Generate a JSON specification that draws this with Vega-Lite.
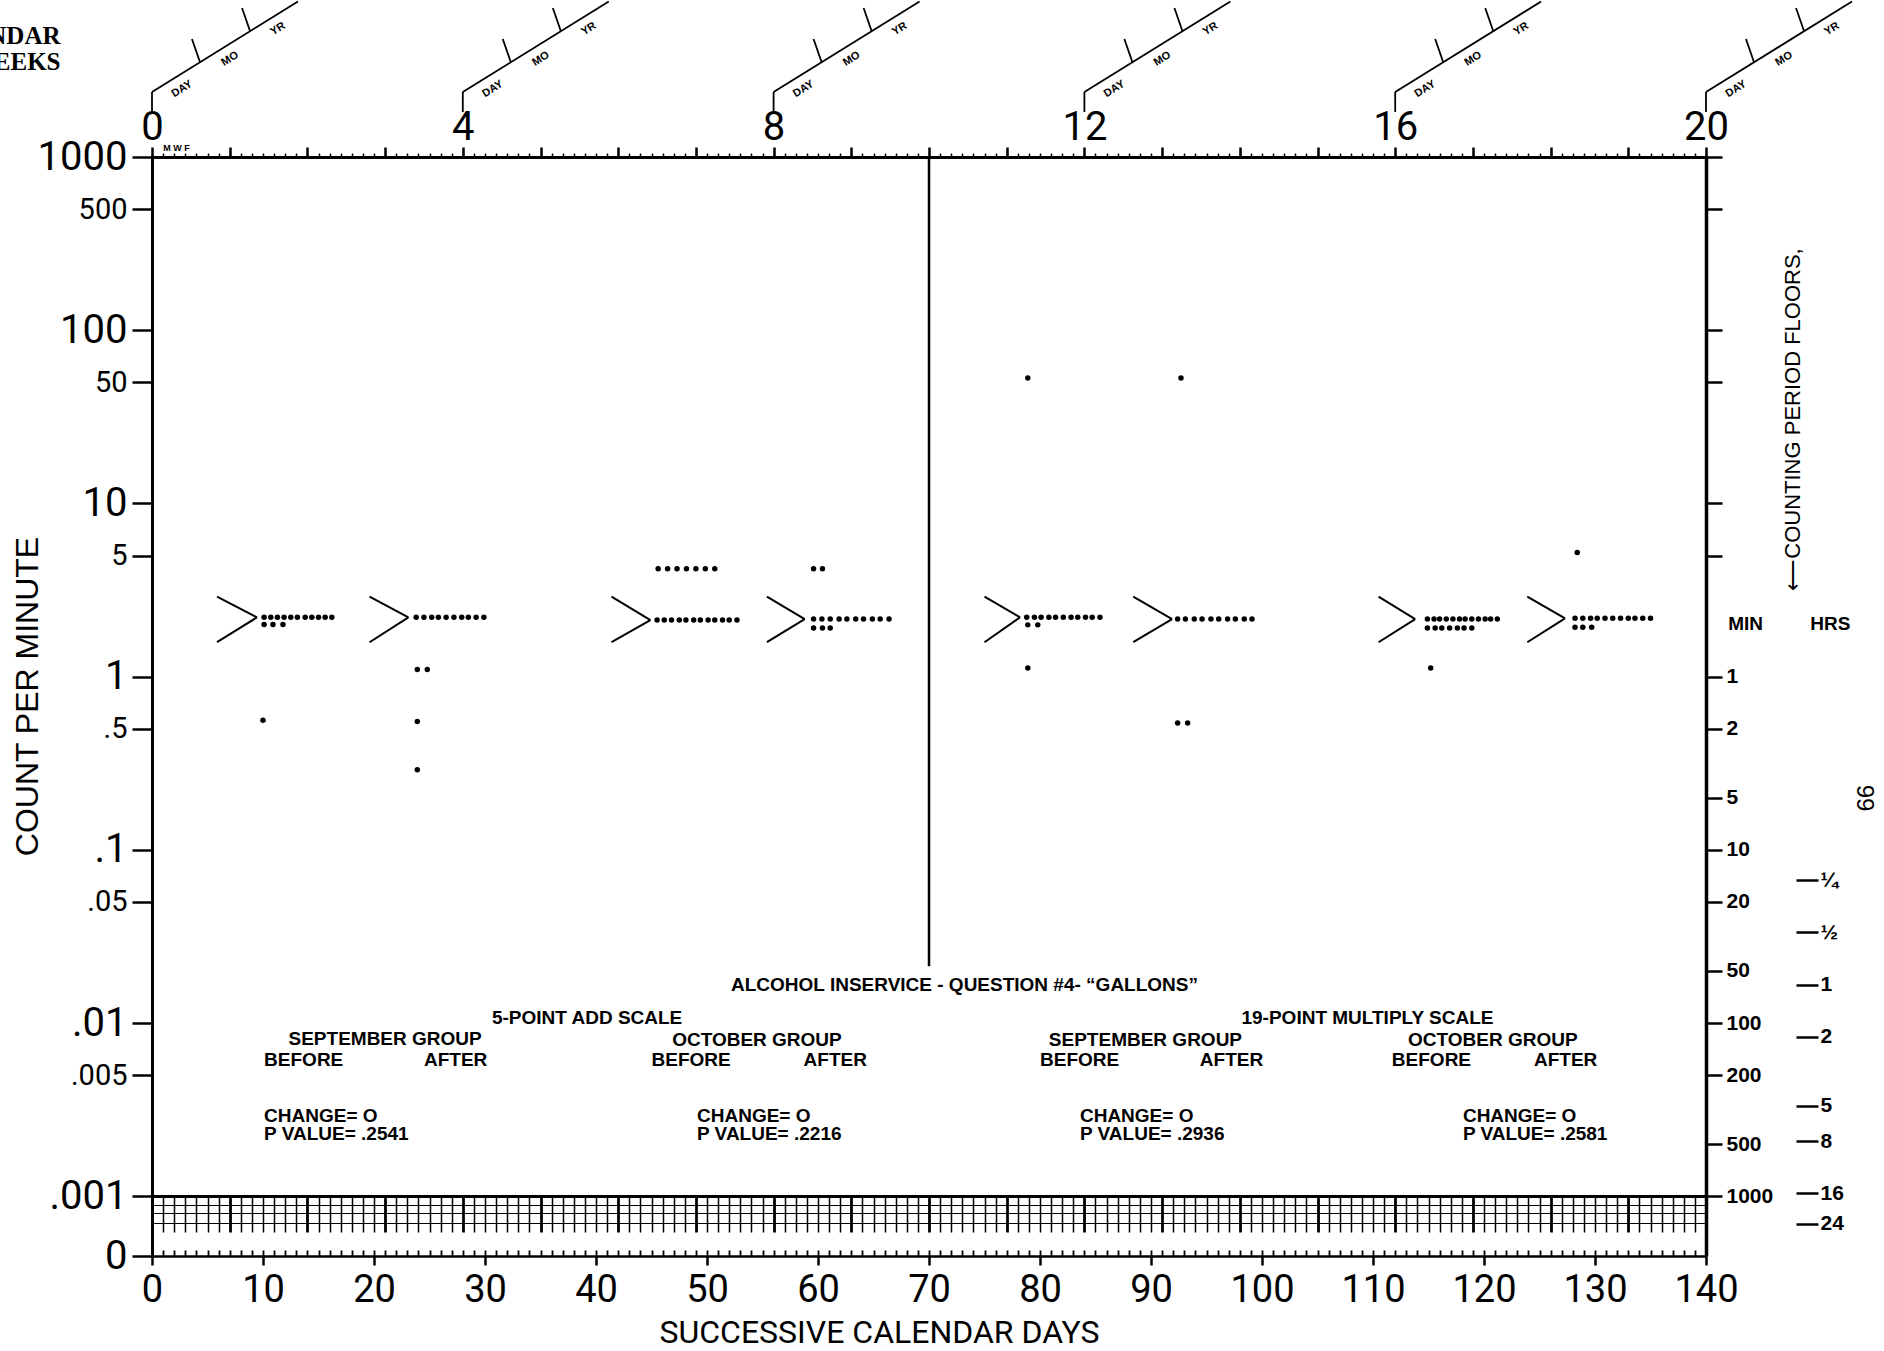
{
  "$schema": "https://vega.github.io/schema/vega-lite/v6.json",
  "autosize": {"type": "none"},
  "padding": {"left": 152, "top": 157, "right": 178, "bottom": 95},
  "width": 1554,
  "height": 1099,
  "background": "white",
  "config": {
    "view": {"stroke": null},
    "font": "Liberation Sans",
    "axis": {"domainColor": "black", "tickColor": "black", "labelColor": "black", "titleColor": "black", "grid": false, "labelFlush": false, "labelOverlap": false}
  },
  "datasets": {
    "dots": [
      {"day": 10.1, "count": 2.2}, {"day": 10.7, "count": 2.2}, {"day": 11.3, "count": 2.2}, {"day": 11.9, "count": 2.2}, {"day": 12.5, "count": 2.2}, {"day": 13.1, "count": 2.2}, {"day": 13.8, "count": 2.2}, {"day": 14.4, "count": 2.2}, {"day": 15.0, "count": 2.2}, {"day": 15.6, "count": 2.2}, {"day": 16.2, "count": 2.2},
      {"day": 10.1, "count": 2.0}, {"day": 10.9, "count": 2.0}, {"day": 11.8, "count": 2.0},
      {"day": 10.0, "count": 0.56},
      {"day": 23.8, "count": 2.2}, {"day": 24.5, "count": 2.2}, {"day": 25.2, "count": 2.2}, {"day": 25.8, "count": 2.2}, {"day": 26.5, "count": 2.2}, {"day": 27.2, "count": 2.2}, {"day": 27.9, "count": 2.2}, {"day": 28.5, "count": 2.2}, {"day": 29.2, "count": 2.2}, {"day": 29.9, "count": 2.2},
      {"day": 23.9, "count": 1.1}, {"day": 24.8, "count": 1.1}, {"day": 23.9, "count": 0.55}, {"day": 23.9, "count": 0.29},
      {"day": 45.6, "count": 4.2}, {"day": 46.45, "count": 4.2}, {"day": 47.3, "count": 4.2}, {"day": 48.15, "count": 4.2}, {"day": 49.0, "count": 4.2}, {"day": 49.85, "count": 4.2}, {"day": 50.7, "count": 4.2},
      {"day": 45.5, "count": 2.12}, {"day": 46.15, "count": 2.12}, {"day": 46.8, "count": 2.12}, {"day": 47.5, "count": 2.12}, {"day": 48.1, "count": 2.12}, {"day": 48.8, "count": 2.12}, {"day": 49.4, "count": 2.12}, {"day": 50.1, "count": 2.12}, {"day": 50.7, "count": 2.12}, {"day": 51.4, "count": 2.12}, {"day": 52.0, "count": 2.12}, {"day": 52.7, "count": 2.12},
      {"day": 59.6, "count": 4.2}, {"day": 60.4, "count": 4.2},
      {"day": 59.6, "count": 2.15}, {"day": 60.35, "count": 2.15}, {"day": 61.1, "count": 2.15}, {"day": 61.9, "count": 2.15}, {"day": 62.6, "count": 2.15}, {"day": 63.4, "count": 2.15}, {"day": 64.1, "count": 2.15}, {"day": 64.9, "count": 2.15}, {"day": 65.6, "count": 2.15}, {"day": 66.4, "count": 2.15},
      {"day": 59.6, "count": 1.91}, {"day": 60.4, "count": 1.91}, {"day": 61.1, "count": 1.91},
      {"day": 78.9, "count": 53},
      {"day": 78.8, "count": 2.2}, {"day": 79.5, "count": 2.2}, {"day": 80.1, "count": 2.2}, {"day": 80.8, "count": 2.2}, {"day": 81.4, "count": 2.2}, {"day": 82.1, "count": 2.2}, {"day": 82.8, "count": 2.2}, {"day": 83.4, "count": 2.2}, {"day": 84.1, "count": 2.2}, {"day": 84.7, "count": 2.2}, {"day": 85.4, "count": 2.2},
      {"day": 78.9, "count": 1.99}, {"day": 79.8, "count": 1.99},
      {"day": 78.9, "count": 1.12},
      {"day": 92.7, "count": 53},
      {"day": 92.4, "count": 2.15}, {"day": 93.1, "count": 2.15}, {"day": 93.9, "count": 2.15}, {"day": 94.6, "count": 2.15}, {"day": 95.4, "count": 2.15}, {"day": 96.1, "count": 2.15}, {"day": 96.9, "count": 2.15}, {"day": 97.6, "count": 2.15}, {"day": 98.4, "count": 2.15}, {"day": 99.1, "count": 2.15},
      {"day": 92.4, "count": 0.54}, {"day": 93.3, "count": 0.54},
      {"day": 114.9, "count": 2.15}, {"day": 115.5, "count": 2.15}, {"day": 116.0, "count": 2.15}, {"day": 116.6, "count": 2.15}, {"day": 117.2, "count": 2.15}, {"day": 117.8, "count": 2.15}, {"day": 118.3, "count": 2.15}, {"day": 118.9, "count": 2.15}, {"day": 119.5, "count": 2.15}, {"day": 120.1, "count": 2.15}, {"day": 120.6, "count": 2.15}, {"day": 121.2, "count": 2.15},
      {"day": 114.9, "count": 1.91}, {"day": 115.6, "count": 1.91}, {"day": 116.2, "count": 1.91}, {"day": 116.9, "count": 1.91}, {"day": 117.6, "count": 1.91}, {"day": 118.2, "count": 1.91}, {"day": 118.9, "count": 1.91},
      {"day": 115.2, "count": 1.12},
      {"day": 128.4, "count": 5.2},
      {"day": 128.2, "count": 2.17}, {"day": 128.9, "count": 2.17}, {"day": 129.6, "count": 2.17}, {"day": 130.2, "count": 2.17}, {"day": 130.9, "count": 2.17}, {"day": 131.6, "count": 2.17}, {"day": 132.3, "count": 2.17}, {"day": 133.0, "count": 2.17}, {"day": 133.6, "count": 2.17}, {"day": 134.3, "count": 2.17}, {"day": 135.0, "count": 2.17},
      {"day": 128.2, "count": 1.93}, {"day": 128.9, "count": 1.93}, {"day": 129.7, "count": 1.93}
    ],
    "chevrons": [
      {"x": 5.86, "y": 2.9, "x2": 9.46, "y2": 2.2}, {"x": 5.86, "y": 1.58, "x2": 9.46, "y2": 2.2},
      {"x": 19.6, "y": 2.9, "x2": 23.1, "y2": 2.2}, {"x": 19.6, "y": 1.58, "x2": 23.1, "y2": 2.2},
      {"x": 41.4, "y": 2.9, "x2": 44.9, "y2": 2.12}, {"x": 41.4, "y": 1.58, "x2": 44.9, "y2": 2.12},
      {"x": 55.4, "y": 2.9, "x2": 58.8, "y2": 2.15}, {"x": 55.4, "y": 1.58, "x2": 58.8, "y2": 2.15},
      {"x": 75.0, "y": 2.9, "x2": 78.2, "y2": 2.2}, {"x": 75.0, "y": 1.58, "x2": 78.2, "y2": 2.2},
      {"x": 88.4, "y": 2.9, "x2": 91.9, "y2": 2.15}, {"x": 88.4, "y": 1.58, "x2": 91.9, "y2": 2.15},
      {"x": 110.5, "y": 2.9, "x2": 113.8, "y2": 2.15}, {"x": 110.5, "y": 1.58, "x2": 113.8, "y2": 2.15},
      {"x": 123.9, "y": 2.9, "x2": 127.3, "y2": 2.17}, {"x": 123.9, "y": 1.58, "x2": 127.3, "y2": 2.17}
    ],
    "divider": [{"day": 70, "top": 1000, "bottom": 0.0213}],
    "fans": [
      {"x": 0, "y": 1820, "x2": 0, "y2": 2373}, {"x": 0, "y": 2373, "x2": 13.15, "y2": 7904}, {"x": 4.32, "y": 3536, "x2": 3.6, "y2": 4800}, {"x": 8.83, "y": 5340, "x2": 8.11, "y2": 7249},
      {"x": 28, "y": 1820, "x2": 28, "y2": 2373}, {"x": 28, "y": 2373, "x2": 41.15, "y2": 7904}, {"x": 32.32, "y": 3536, "x2": 31.6, "y2": 4800}, {"x": 36.83, "y": 5340, "x2": 36.11, "y2": 7249},
      {"x": 56, "y": 1820, "x2": 56, "y2": 2373}, {"x": 56, "y": 2373, "x2": 69.15, "y2": 7904}, {"x": 60.32, "y": 3536, "x2": 59.6, "y2": 4800}, {"x": 64.83, "y": 5340, "x2": 64.11, "y2": 7249},
      {"x": 84, "y": 1820, "x2": 84, "y2": 2373}, {"x": 84, "y": 2373, "x2": 97.15, "y2": 7904}, {"x": 88.32, "y": 3536, "x2": 87.6, "y2": 4800}, {"x": 92.83, "y": 5340, "x2": 92.11, "y2": 7249},
      {"x": 112, "y": 1820, "x2": 112, "y2": 2373}, {"x": 112, "y": 2373, "x2": 125.15, "y2": 7904}, {"x": 116.32, "y": 3536, "x2": 115.6, "y2": 4800}, {"x": 120.83, "y": 5340, "x2": 120.11, "y2": 7249},
      {"x": 140, "y": 1820, "x2": 140, "y2": 2373}, {"x": 140, "y": 2373, "x2": 153.15, "y2": 7904}, {"x": 144.32, "y": 3536, "x2": 143.6, "y2": 4800}, {"x": 148.83, "y": 5340, "x2": 148.11, "y2": 7249}
    ],
    "fanlabels": [
      {"x": 2.7, "y": 2470, "text": "DAY"}, {"x": 7.03, "y": 3680, "text": "MO"}, {"x": 11.35, "y": 5483, "text": "YR"},
      {"x": 30.7, "y": 2470, "text": "DAY"}, {"x": 35.03, "y": 3680, "text": "MO"}, {"x": 39.35, "y": 5483, "text": "YR"},
      {"x": 58.7, "y": 2470, "text": "DAY"}, {"x": 63.03, "y": 3680, "text": "MO"}, {"x": 67.35, "y": 5483, "text": "YR"},
      {"x": 86.7, "y": 2470, "text": "DAY"}, {"x": 91.03, "y": 3680, "text": "MO"}, {"x": 95.35, "y": 5483, "text": "YR"},
      {"x": 114.7, "y": 2470, "text": "DAY"}, {"x": 119.03, "y": 3680, "text": "MO"}, {"x": 123.35, "y": 5483, "text": "YR"},
      {"x": 142.7, "y": 2470, "text": "DAY"}, {"x": 147.03, "y": 3680, "text": "MO"}, {"x": 151.35, "y": 5483, "text": "YR"}
    ],
    "notes_center": [
      {"x": 73.2, "y": 0.01656, "text": "ALCOHOL INSERVICE - QUESTION  #4- “GALLONS”"},
      {"x": 39.2, "y": 0.01069, "text": "5-POINT ADD SCALE"},
      {"x": 21.0, "y": 0.00809, "text": "SEPTEMBER GROUP"},
      {"x": 54.5, "y": 0.00798, "text": "OCTOBER GROUP"},
      {"x": 109.5, "y": 0.01069, "text": "19-POINT MULTIPLY SCALE"},
      {"x": 89.5, "y": 0.00798, "text": "SEPTEMBER GROUP"},
      {"x": 120.8, "y": 0.00798, "text": "OCTOBER GROUP"}
    ],
    "notes_left": [
      {"x": 10.1, "y": 0.00611, "text": "BEFORE"}, {"x": 24.5, "y": 0.00611, "text": "AFTER"},
      {"x": 45.0, "y": 0.00611, "text": "BEFORE"}, {"x": 58.7, "y": 0.00611, "text": "AFTER"},
      {"x": 80.0, "y": 0.00611, "text": "BEFORE"}, {"x": 94.4, "y": 0.00611, "text": "AFTER"},
      {"x": 111.7, "y": 0.00611, "text": "BEFORE"}, {"x": 124.5, "y": 0.00611, "text": "AFTER"},
      {"x": 10.1, "y": 0.002904, "text": "CHANGE=  O"}, {"x": 10.1, "y": 0.002286, "text": "P VALUE=  .2541"},
      {"x": 49.1, "y": 0.002904, "text": "CHANGE=  O"}, {"x": 49.1, "y": 0.002286, "text": "P VALUE=  .2216"},
      {"x": 83.6, "y": 0.002904, "text": "CHANGE=  O"}, {"x": 83.6, "y": 0.002286, "text": "P VALUE=  .2936"},
      {"x": 118.1, "y": 0.002904, "text": "CHANGE=  O"}, {"x": 118.1, "y": 0.002286, "text": "P VALUE=  .2581"},
      {"x": 142.0, "y": 2.01, "text": "MIN"}, {"x": 149.4, "y": 2.01, "text": "HRS"}
    ],
    "mwf": [{"x": 2.2, "y": 1127, "text": "M  W  F"}],
    "pagenum": [{"x": 154.2, "y": 0.199, "text": "99"}]
  },
  "layer": [
    {
      "data": {"name": "dots"},
      "mark": {"type": "point", "filled": true, "color": "black", "opacity": 1, "size": 30},
      "encoding": {
        "x": {"field": "day", "type": "quantitative", "scale": {"domain": [0, 140], "nice": false, "zero": false},
          "axis": {"orient": "bottom", "values": [0, 10, 20, 30, 40, 50, 60, 70, 80, 90, 100, 110, 120, 130, 140], "format": "d",
            "labelFont": "Roboto", "labelFontSize": 38, "labelFontWeight": "normal", "labelPadding": 6,
            "tickSize": 9, "tickWidth": 2.5, "domainWidth": 2.5,
            "title": "SUCCESSIVE CALENDAR DAYS", "titleFont": "Roboto", "titleFontSize": 32, "titleFontWeight": "normal",
            "titleX": 727, "titleY": 76, "titleAlign": "center", "titleBaseline": "middle", "titleAngle": 0}},
        "y": {"field": "count", "type": "quantitative", "scale": {"type": "log", "domain": [0.000452, 1000], "nice": false},
          "axis": {"orient": "left", "values": [1000, 500, 100, 50, 10, 5, 1, 0.5, 0.1, 0.05, 0.01, 0.005, 0.001, 0.000452],
            "labelExpr": "datum.value < 0.0006 ? '0' : (datum.value < 1 ? replace(toString(datum.value), '0.', '.') : toString(datum.value))",
            "labelFont": "Roboto", "labelFontWeight": "normal",
            "labelFontSize": {"condition": {"test": "datum.value < 0.0006 || abs(log(datum.value)/LN10 - round(log(datum.value)/LN10)) < 0.01", "value": 40}, "value": 29},
            "labelPadding": 5, "tickSize": 20, "tickWidth": 2.5, "domainWidth": 3,
            "title": "COUNT PER MINUTE", "titleFont": "Liberation Sans", "titleFontSize": 32, "titleFontWeight": "normal",
            "titleAngle": 270, "titleX": -125, "titleY": 539, "titleAlign": "center", "titleBaseline": "middle"}}
      }
    },
    {
      "data": {"name": "chevrons"},
      "mark": {"type": "rule", "color": "black", "strokeWidth": 2},
      "encoding": {
        "x": {"field": "x", "type": "quantitative", "scale": {"domain": [0, 140], "nice": false, "zero": false}, "axis": null},
        "y": {"field": "y", "type": "quantitative", "scale": {"type": "log", "domain": [0.000452, 1000], "nice": false}, "axis": null},
        "x2": {"field": "x2"},
        "y2": {"field": "y2"}
      }
    },
    {
      "data": {"name": "divider"},
      "mark": {"type": "rule", "color": "black", "strokeWidth": 2.5},
      "encoding": {
        "x": {"field": "day", "type": "quantitative", "scale": {"domain": [0, 140], "nice": false, "zero": false}, "axis": null},
        "y": {"field": "top", "type": "quantitative", "scale": {"type": "log", "domain": [0.000452, 1000], "nice": false}, "axis": null},
        "y2": {"field": "bottom"}
      }
    },
    {
      "data": {"name": "fans"},
      "mark": {"type": "rule", "color": "black", "strokeWidth": 1.8},
      "encoding": {
        "x": {"field": "x", "type": "quantitative", "scale": {"domain": [0, 140], "nice": false, "zero": false}, "axis": null},
        "y": {"field": "y", "type": "quantitative", "scale": {"type": "log", "domain": [0.000452, 1000], "nice": false}, "axis": null},
        "x2": {"field": "x2"},
        "y2": {"field": "y2"}
      }
    },
    {
      "data": {"name": "fanlabels"},
      "mark": {"type": "text", "color": "black", "font": "Liberation Sans", "fontWeight": "bold", "fontSize": 11, "angle": -32, "align": "center", "baseline": "middle"},
      "encoding": {
        "x": {"field": "x", "type": "quantitative", "scale": {"domain": [0, 140], "nice": false, "zero": false}, "axis": null},
        "y": {"field": "y", "type": "quantitative", "scale": {"type": "log", "domain": [0.000452, 1000], "nice": false}, "axis": null},
        "text": {"field": "text"}
      }
    },
    {
      "data": {"name": "notes_center"},
      "mark": {"type": "text", "color": "black", "font": "Liberation Sans", "fontWeight": "bold", "fontSize": 19, "align": "center", "baseline": "middle"},
      "encoding": {
        "x": {"field": "x", "type": "quantitative", "scale": {"domain": [0, 140], "nice": false, "zero": false}, "axis": null},
        "y": {"field": "y", "type": "quantitative", "scale": {"type": "log", "domain": [0.000452, 1000], "nice": false}, "axis": null},
        "text": {"field": "text"}
      }
    },
    {
      "data": {"name": "notes_left"},
      "mark": {"type": "text", "color": "black", "font": "Liberation Sans", "fontWeight": "bold", "fontSize": 19, "align": "left", "baseline": "middle"},
      "encoding": {
        "x": {"field": "x", "type": "quantitative", "scale": {"domain": [0, 140], "nice": false, "zero": false}, "axis": null},
        "y": {"field": "y", "type": "quantitative", "scale": {"type": "log", "domain": [0.000452, 1000], "nice": false}, "axis": null},
        "text": {"field": "text"}
      }
    },
    {
      "data": {"name": "mwf"},
      "mark": {"type": "text", "color": "black", "font": "Liberation Sans", "fontWeight": "bold", "fontSize": 9, "align": "center", "baseline": "middle"},
      "encoding": {
        "x": {"field": "x", "type": "quantitative", "scale": {"domain": [0, 140], "nice": false, "zero": false}, "axis": null},
        "y": {"field": "y", "type": "quantitative", "scale": {"type": "log", "domain": [0.000452, 1000], "nice": false}, "axis": null},
        "text": {"field": "text"}
      }
    },
    {
      "data": {"name": "pagenum"},
      "mark": {"type": "text", "color": "black", "font": "Liberation Sans", "fontSize": 24, "angle": 90, "align": "center", "baseline": "middle"},
      "encoding": {
        "x": {"field": "x", "type": "quantitative", "scale": {"domain": [0, 140], "nice": false, "zero": false}, "axis": null},
        "y": {"field": "y", "type": "quantitative", "scale": {"type": "log", "domain": [0.000452, 1000], "nice": false}, "axis": null},
        "text": {"field": "text"}
      }
    },
    {
      "data": {"name": "dots"},
      "mark": {"type": "point", "opacity": 0},
      "encoding": {
        "y": {"field": "count", "type": "quantitative", "scale": {"type": "log", "domain": [0.000452, 1000], "nice": false},
          "axis": {"orient": "right", "values": [1000, 500, 100, 50, 10, 5, 1, 0.5, 0.2, 0.1, 0.05, 0.02, 0.01, 0.005, 0.002, 0.001],
            "labelExpr": "datum.value <= 1.0001 ? format(round(1/datum.value), 'd') : ''",
            "labelFont": "Liberation Sans", "labelFontWeight": "bold", "labelFontSize": 21, "labelPadding": 4,
            "tickSize": 16, "tickWidth": 2.5, "domainWidth": 3.5,
            "title": "⟵COUNTING PERIOD FLOORS,", "titleFont": "Liberation Sans", "titleFontSize": 22, "titleFontWeight": "normal",
            "titleAngle": 270, "titleX": 86, "titleY": 262, "titleAlign": "center", "titleBaseline": "middle"}}
      }
    },
    {
      "data": {"name": "dots"},
      "mark": {"type": "point", "opacity": 0},
      "encoding": {
        "y": {"field": "count", "type": "quantitative", "scale": {"type": "log", "domain": [0.000452, 1000], "nice": false},
          "axis": {"orient": "right", "offset": 90, "domain": false,
            "values": [0.0666667, 0.0333333, 0.0166667, 0.00833333, 0.00333333, 0.00208333, 0.00104167, 0.000694444],
            "labelExpr": "1/(60*datum.value) < 0.3 ? '¼' : (1/(60*datum.value) < 0.7 ? '½' : format(round(1/(60*datum.value)), 'd'))",
            "labelFont": "Liberation Sans", "labelFontWeight": "bold", "labelFontSize": 21, "labelPadding": 2,
            "tickSize": 22, "tickWidth": 2.5, "title": null}}
      }
    },
    {
      "data": {"name": "dots"},
      "mark": {"type": "point", "opacity": 0},
      "encoding": {
        "x": {"field": "day", "type": "quantitative", "scale": {"domain": [0, 140], "nice": false, "zero": false},
          "axis": {"orient": "top", "values": [0, 7, 14, 21, 28, 35, 42, 49, 56, 63, 70, 77, 84, 91, 98, 105, 112, 119, 126, 133, 140],
            "labelExpr": "datum.value % 28 == 0 ? toString(datum.value/7) : ''",
            "labelFont": "Roboto", "labelFontWeight": "normal", "labelFontSize": 40, "labelPadding": 0,
            "tickSize": 10, "tickWidth": 2.5, "domainWidth": 3,
            "title": ["CALENDAR", "WEEKS"], "titleFont": "Liberation Serif", "titleFontSize": 25, "titleFontWeight": "bold",
            "titleLineHeight": 26, "titleAngle": 0, "titleAlign": "right", "titleBaseline": "top", "titleX": -92, "titleY": -134}}
      }
    },
    {
      "data": {"name": "dots"},
      "mark": {"type": "point", "opacity": 0},
      "encoding": {
        "x": {"field": "day", "type": "quantitative", "scale": {"domain": [0, 140], "nice": false, "zero": false},
          "axis": {"orient": "top", "domain": false, "labels": false, "tickSize": 4, "tickWidth": 1.5, "title": null,
            "values": [0,1,2,3,4,5,6,7,8,9,10,11,12,13,14,15,16,17,18,19,20,21,22,23,24,25,26,27,28,29,30,31,32,33,34,35,36,37,38,39,40,41,42,43,44,45,46,47,48,49,50,51,52,53,54,55,56,57,58,59,60,61,62,63,64,65,66,67,68,69,70,71,72,73,74,75,76,77,78,79,80,81,82,83,84,85,86,87,88,89,90,91,92,93,94,95,96,97,98,99,100,101,102,103,104,105,106,107,108,109,110,111,112,113,114,115,116,117,118,119,120,121,122,123,124,125,126,127,128,129,130,131,132,133,134,135,136,137,138,139,140]}}
      }
    },
    {
      "data": {"name": "dots"},
      "mark": {"type": "point", "opacity": 0},
      "encoding": {
        "x": {"field": "day", "type": "quantitative", "scale": {"domain": [0, 140], "nice": false, "zero": false},
          "axis": {"orient": "top", "offset": -1099, "domain": false, "labels": false, "tickSize": 6, "tickWidth": 1.8, "title": null,
            "values": [0,1,2,3,4,5,6,7,8,9,10,11,12,13,14,15,16,17,18,19,20,21,22,23,24,25,26,27,28,29,30,31,32,33,34,35,36,37,38,39,40,41,42,43,44,45,46,47,48,49,50,51,52,53,54,55,56,57,58,59,60,61,62,63,64,65,66,67,68,69,70,71,72,73,74,75,76,77,78,79,80,81,82,83,84,85,86,87,88,89,90,91,92,93,94,95,96,97,98,99,100,101,102,103,104,105,106,107,108,109,110,111,112,113,114,115,116,117,118,119,120,121,122,123,124,125,126,127,128,129,130,131,132,133,134,135,136,137,138,139,140]}}
      }
    },
    {
      "data": {"name": "dots"},
      "mark": {"type": "point", "opacity": 0},
      "encoding": {
        "x": {"field": "day", "type": "quantitative", "scale": {"domain": [0, 140], "nice": false, "zero": false},
          "axis": {"orient": "top", "offset": -1075, "domain": false, "labels": false, "tickSize": 37,
            "tickWidth": {"condition": {"test": "datum.value % 7 == 0", "value": 2.8}, "value": 1.5}, "title": null,
            "values": [0,1,2,3,4,5,6,7,8,9,10,11,12,13,14,15,16,17,18,19,20,21,22,23,24,25,26,27,28,29,30,31,32,33,34,35,36,37,38,39,40,41,42,43,44,45,46,47,48,49,50,51,52,53,54,55,56,57,58,59,60,61,62,63,64,65,66,67,68,69,70,71,72,73,74,75,76,77,78,79,80,81,82,83,84,85,86,87,88,89,90,91,92,93,94,95,96,97,98,99,100,101,102,103,104,105,106,107,108,109,110,111,112,113,114,115,116,117,118,119,120,121,122,123,124,125,126,127,128,129,130,131,132,133,134,135,136,137,138,139,140]}}
      }
    },
    {
      "data": {"name": "dots"},
      "mark": {"type": "point", "opacity": 0},
      "encoding": {
        "y": {"field": "count", "type": "quantitative", "scale": {"type": "log", "domain": [0.000452, 1000], "nice": false},
          "axis": {"orient": "left", "domain": false, "labels": false, "ticks": false, "grid": true, "gridColor": "black",
            "gridWidth": {"condition": {"test": "datum.value > 0.00095", "value": 3}, "value": 1.2}, "gridOpacity": 1, "title": null,
            "values": [0.001, 0.00089, 0.0008, 0.0007]}}
      }
    }
  ],
  "resolve": {"axis": {"x": "independent", "y": "independent"}}
}
